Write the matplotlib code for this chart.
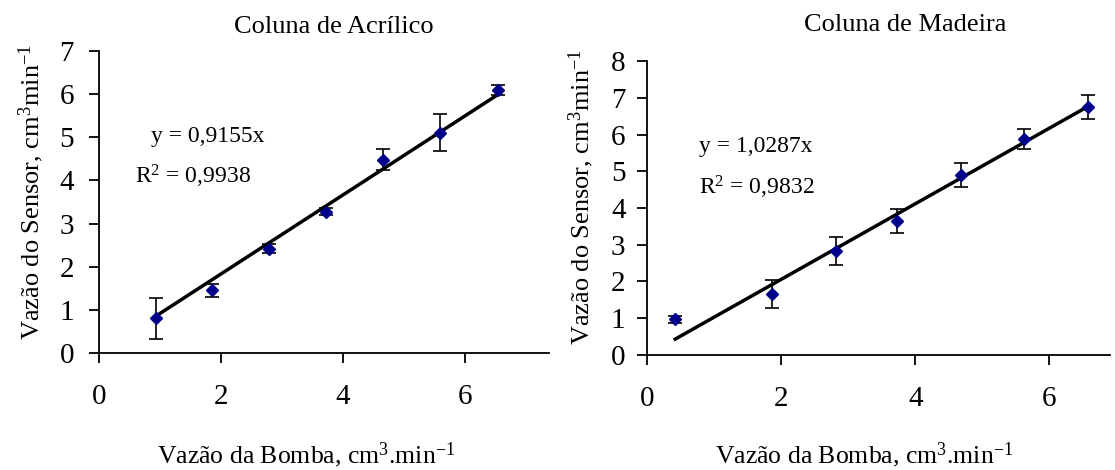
import matplotlib
matplotlib.use("Agg")
import matplotlib.pyplot as plt

plt.rcParams["font.family"] = ["Liberation Serif", "DejaVu Serif"]
plt.rcParams["mathtext.fontset"] = "custom"
plt.rcParams["mathtext.rm"] = "Liberation Serif"
plt.rcParams["mathtext.it"] = "Liberation Serif:italic"

# Coluna de Acrilico
acr_x = [0.93, 1.85, 2.78, 3.72, 4.65, 5.60, 6.55]
acr_y = [0.80, 1.45, 2.42, 3.27, 4.48, 5.10, 6.10]
acr_err = [0.48, 0.15, 0.10, 0.08, 0.25, 0.43, 0.12]
acr_slope = 0.9155
acr_r2 = "0,9938"

# Coluna de Madeira
mad_x = [0.42, 1.87, 2.82, 3.72, 4.68, 5.62, 6.58]
mad_y = [0.97, 1.65, 2.82, 3.65, 4.90, 5.88, 6.75]
mad_err = [0.10, 0.38, 0.38, 0.32, 0.33, 0.27, 0.33]
mad_slope = 1.0287
mad_r2 = "0,9832"

xticks = [0, 2, 4, 6]
xlabel = "Vazão da Bomba, cm$^3$.min$^{-1}$"
ylabel = "Vazão do Sensor, cm$^3$min$^{-1}$"


def panel(ax, x, y, err, slope, r2, ymax, xmax, eq_pos, r2_pos, xl_pos, yl_pos, ypad):
    ax.errorbar(x, y, yerr=err, fmt="D", color="#00008B", ms=6,
                ecolor="black", elinewidth=1.2, capsize=5, capthick=1.2, zorder=3)
    fx = [x[0], x[-1]]
    fy = [slope * v for v in fx]
    ax.plot(fx, fy, color="black", lw=2.5, zorder=2)
    ax.set_xlim(0, xmax)
    ax.set_ylim(0, ymax)
    ax.set_xticks(xticks)
    ax.set_yticks(range(0, ymax + 1))
    for s in ["top", "right"]:
        ax.spines[s].set_visible(False)
    for s in ["left", "bottom"]:
        ax.spines[s].set_linewidth(1.3)
    ax.tick_params(axis="x", direction="out", length=7, width=1.3, pad=15, labelsize=21)
    ax.tick_params(axis="y", direction="out", length=7, width=1.3, pad=ypad, labelsize=21)
    ax.set_xlabel(xlabel, fontsize=18.5)
    ax.set_ylabel(ylabel, fontsize=19)
    ax.xaxis.set_label_coords(*xl_pos)
    ax.yaxis.set_label_coords(*yl_pos)
    ax.text(eq_pos[0], eq_pos[1], "y = %s" % ("%.4f" % slope).replace(".", ",") + "x",
            transform=ax.transAxes, fontsize=17)
    ax.text(r2_pos[0], r2_pos[1], "R$^2$ = " + r2,
            transform=ax.transAxes, fontsize=17)


fig = plt.figure(figsize=(11.15, 4.7), dpi=100)
ax1 = fig.add_axes([0.0888, 0.249, 0.4036, 0.6426])
ax2 = fig.add_axes([0.5803, 0.2447, 0.415, 0.6255])

panel(ax1, acr_x, acr_y, acr_err, acr_slope, acr_r2, 7, 7.38,
      (0.115, 0.70), (0.08, 0.56), (0.461, -0.288), (-0.118, 0.533), 11)
panel(ax2, mad_x, mad_y, mad_err, mad_slope, mad_r2, 8, 6.9,
      (0.1126, 0.691), (0.1126, 0.547), (0.47, -0.289), (-0.11, 0.537), 8.5)

fig.text(0.299, 0.943, "Coluna de Acrílico", fontsize=19, ha="center", va="center")
fig.text(0.812, 0.947, "Coluna de Madeira", fontsize=19, ha="center", va="center")

fig.savefig("out.png", dpi=100)
